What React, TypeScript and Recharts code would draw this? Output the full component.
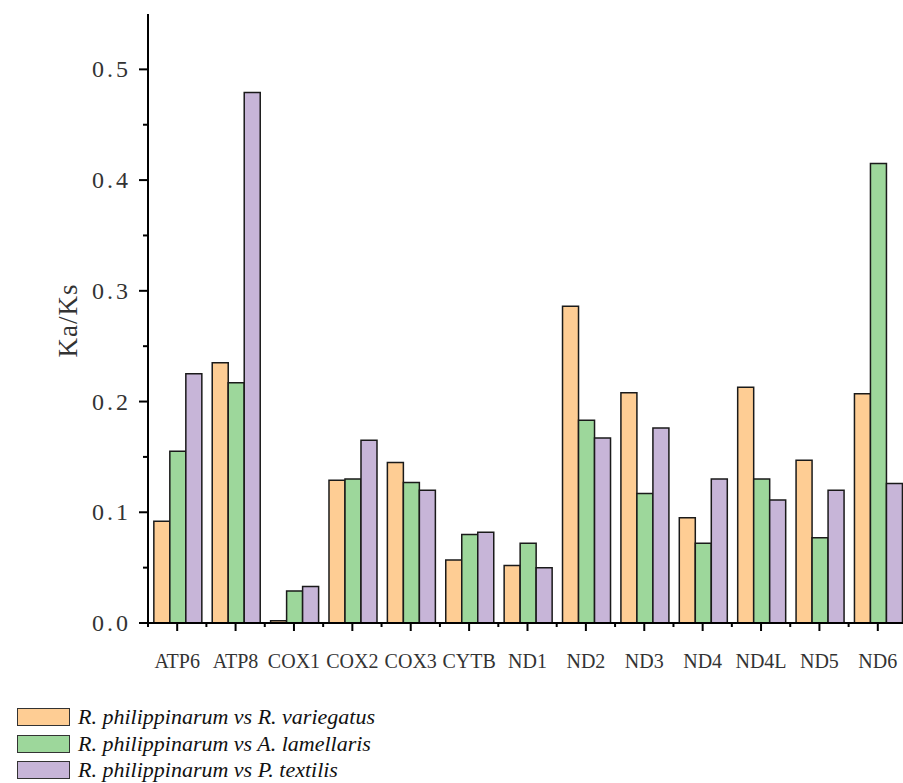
import { BarChart, Bar, XAxis, YAxis, Legend } from "recharts";

const GENES = ["ATP6", "ATP8", "COX1", "COX2", "COX3", "CYTB", "ND1", "ND2", "ND3", "ND4", "ND4L", "ND5", "ND6"];
const VARIEGATUS = [0.092, 0.235, 0.002, 0.129, 0.145, 0.057, 0.052, 0.286, 0.208, 0.095, 0.213, 0.147, 0.207];
const LAMELLARIS = [0.155, 0.217, 0.029, 0.13, 0.127, 0.08, 0.072, 0.183, 0.117, 0.072, 0.13, 0.077, 0.415];
const TEXTILIS = [0.225, 0.479, 0.033, 0.165, 0.12, 0.082, 0.05, 0.167, 0.176, 0.13, 0.111, 0.12, 0.126];
const Y_TICKS = [0, 0.05, 0.1, 0.15, 0.2, 0.25, 0.3, 0.35, 0.4, 0.45, 0.5];

const SERIES = [
  { key: "variegatus", name: "R. philippinarum vs R. variegatus", color: "#FECD94" },
  { key: "lamellaris", name: "R. philippinarum vs A. lamellaris", color: "#9DD79B" },
  { key: "textilis", name: "R. philippinarum vs P. textilis", color: "#C7B5D8" },
];

const rows = GENES.map((gene, i) => ({
  gene,
  variegatus: VARIEGATUS[i],
  lamellaris: LAMELLARIS[i],
  textilis: TEXTILIS[i],
}));

const W = 910;
const H = 783;
const M = { top: 14, right: 3, left: 0, bottom: 120 };
const Y_W = 148;
const BAND = (W - M.left - M.right - Y_W) / GENES.length;
const FONT = "'Liberation Serif', 'Times New Roman', serif";

function YTick(props: any) {
  const { x, y, payload } = props;
  const v = payload.value as number;
  const major = Math.abs(v * 10 - Math.round(v * 10)) < 1e-6;
  return (
    <g>
      <line x1={x - (major ? 9 : 5)} x2={x} y1={y} y2={y} stroke="#000" strokeWidth={2} />
      {major && (
        <text x={x - 17} y={y} dy={8} textAnchor="end" fontSize={24} letterSpacing={3} fill="#333" fontFamily={FONT}>
          {v.toFixed(1)}
        </text>
      )}
    </g>
  );
}

function XTick(props: any) {
  const { x, y, payload, index } = props;
  return (
    <g>
      <line x1={x} x2={x} y1={y} y2={y + 8} stroke="#000" strokeWidth={2} />
      <line x1={x - BAND / 2} x2={x - BAND / 2} y1={y} y2={y + 4} stroke="#000" strokeWidth={2} />
      {index === GENES.length - 1 && (
        <line x1={x + BAND / 2} x2={x + BAND / 2} y1={y} y2={y + 4} stroke="#000" strokeWidth={2} />
      )}
      <text x={x} y={y} dy={45} textAnchor="middle" fontSize={20} fill="#333" fontFamily={FONT}>
        {payload.value}
      </text>
    </g>
  );
}

function LegendBox() {
  return (
    <div style={{ fontFamily: FONT }}>
      {SERIES.map((s) => (
        <div key={s.key} style={{ display: "flex", alignItems: "center", height: 26.5 }}>
          <div
            style={{
              width: 51,
              height: 16,
              background: s.color,
              border: "1.5px solid #333",
              marginRight: 8,
            }}
          />
          <span style={{ fontStyle: "italic", fontSize: 22, color: "#111" }}>{s.name}</span>
        </div>
      ))}
    </div>
  );
}

export default function App() {
  return (
    <div style={{ position: "absolute", left: 0, top: 0, width: 903, height: 783, overflow: "hidden", background: "#fff" }}>
      <BarChart width={W} height={H} data={rows} margin={M} barCategoryGap="10%" barGap={0}>
        <XAxis
          dataKey="gene"
          height={40}
          tickSize={0}
          tickMargin={0}
          tickLine={false}
          axisLine={{ stroke: "#000", strokeWidth: 2 }}
          tick={<XTick />}
          interval={0}
        />
        <YAxis
          width={Y_W}
          domain={[0, 0.55]}
          ticks={Y_TICKS}
          interval={0}
          tickSize={0}
          tickMargin={0}
          tickLine={false}
          axisLine={{ stroke: "#000", strokeWidth: 2 }}
          tick={<YTick />}
          label={{
            content: (p: any) => {
              const vb = p.viewBox;
              const cx = vb.x + 68;
              const cy = vb.y + vb.height / 2 + 2;
              return (
                <text
                  x={cx}
                  y={cy}
                  transform={`rotate(-90 ${cx} ${cy})`}
                  textAnchor="middle"
                  dominantBaseline="central"
                  fontSize={27}
                  letterSpacing={1}
                  fill="#333"
                  fontFamily={FONT}
                >
                  Ka/Ks
                </text>
              );
            },
          }}
        />
        <Legend
          layout="horizontal"
          verticalAlign="middle"
          align="center"
          content={<LegendBox />}
          wrapperStyle={{ position: "absolute", left: 17, top: 704, width: 520 }}
        />
        {SERIES.map((s) => (
          <Bar
            key={s.key}
            dataKey={s.key}
            name={s.name}
            fill={s.color}
            stroke="#1a1a1a"
            strokeWidth={1.5}
            isAnimationActive={false}
          />
        ))}
      </BarChart>
    </div>
  );
}
